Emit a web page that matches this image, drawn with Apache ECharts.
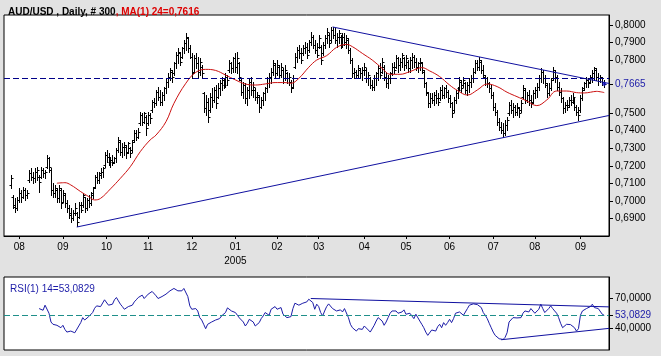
<!DOCTYPE html>
<html><head><meta charset="utf-8">
<script src="https://cdn.jsdelivr.net/npm/echarts@6/dist/echarts.min.js"></script>
<style>html,body{margin:0;padding:0;background:#e2e2e2}#c{width:661px;height:356px}</style>
</head><body><div id="c"></div>
<script>
// ---- data (AUD/USD daily, 300 bars, index 0..299) ----
const high = [0.7148,0.7034,0.7015,0.7025,0.7072,0.7063,0.7082,0.7072,0.7063,0.7176,
0.7186,0.7167,0.7186,0.7195,0.7148,0.7195,0.7186,0.7176,0.7261,0.7252,
0.7186,0.7101,0.7091,0.7072,0.7091,0.7072,0.7063,0.7044,0.7006,0.6977,
0.6958,0.6949,0.6987,0.6939,0.6996,0.6996,0.7044,0.7025,0.7015,0.7034,
0.7053,0.7082,0.7148,0.7167,0.7167,0.7186,0.7195,0.7280,0.7290,0.7271,
0.7252,0.7261,0.7252,0.7299,0.7366,0.7347,0.7328,0.7337,0.7318,0.7337,
0.7309,0.7347,0.7403,0.7403,0.7413,0.7508,0.7498,0.7508,0.7489,0.7508,
0.7498,0.7574,0.7584,0.7631,0.7650,0.7631,0.7621,0.7650,0.7697,0.7726,
0.7754,0.7744,0.7792,0.7849,0.7868,0.7849,0.7877,0.7915,0.7953,0.7934,
0.7887,0.7839,0.7830,0.7839,0.7820,0.7811,0.7773,0.7621,0.7602,0.7584,
0.7612,0.7640,0.7650,0.7659,0.7669,0.7688,0.7707,0.7697,0.7726,0.7716,
0.7801,0.7792,0.7820,0.7839,0.7849,0.7792,0.7697,0.7678,0.7669,0.7650,
0.7697,0.7707,0.7678,0.7640,0.7621,0.7602,0.7593,0.7621,0.7650,0.7707,
0.7726,0.7754,0.7801,0.7782,0.7801,0.7773,0.7782,0.7754,0.7773,0.7735,
0.7726,0.7688,0.7716,0.7839,0.7877,0.7887,0.7868,0.7887,0.7905,0.7896,
0.7915,0.7962,0.7943,0.7915,0.7896,0.7943,0.7887,0.7905,0.7943,0.7981,
0.7953,0.7991,0.7991,0.7981,0.7953,0.7972,0.7943,0.7953,0.7953,0.7943,
0.7924,0.7868,0.7811,0.7754,0.7744,0.7773,0.7754,0.7763,0.7782,0.7754,
0.7735,0.7707,0.7688,0.7716,0.7735,0.7773,0.7782,0.7811,0.7773,0.7735,
0.7716,0.7735,0.7782,0.7792,0.7830,0.7820,0.7811,0.7839,0.7820,0.7830,
0.7801,0.7820,0.7839,0.7830,0.7811,0.7792,0.7811,0.7792,0.7744,0.7678,
0.7621,0.7612,0.7612,0.7621,0.7631,0.7612,0.7650,0.7659,0.7650,0.7659,
0.7631,0.7602,0.7565,0.7593,0.7631,0.7650,0.7707,0.7688,0.7707,0.7678,
0.7678,0.7697,0.7716,0.7754,0.7801,0.7801,0.7820,0.7801,0.7773,0.7716,
0.7707,0.7678,0.7659,0.7621,0.7555,0.7517,0.7470,0.7451,0.7441,0.7460,
0.7479,0.7565,0.7574,0.7555,0.7546,0.7555,0.7536,0.7574,0.7659,0.7640,
0.7621,0.7631,0.7602,0.7631,0.7650,0.7669,0.7716,0.7754,0.7744,0.7716,
0.7669,0.7669,0.7697,0.7763,0.7744,0.7716,0.7678,0.7640,0.7593,0.7565,
0.7574,0.7593,0.7602,0.7612,0.7584,0.7546,0.7536,0.7602,0.7650,0.7678,
0.7707,0.7697,0.7716,0.7744,0.7763,0.7754,0.7726,0.7716,0.7707,0.7688];

const low = [0.7072,0.6958,0.6939,0.6949,0.6996,0.6996,0.7015,0.7006,0.7015,0.7110,
0.7119,0.7101,0.7110,0.7119,0.7053,0.7129,0.7138,0.7129,0.7186,0.7167,
0.7034,0.7025,0.7025,0.6996,0.6996,0.6958,0.6996,0.6968,0.6939,0.6902,
0.6883,0.6892,0.6920,0.6860,0.6902,0.6939,0.6968,0.6939,0.6949,0.6968,
0.6977,0.7015,0.7072,0.7101,0.7101,0.7129,0.7138,0.7195,0.7224,0.7205,
0.7195,0.7205,0.7214,0.7224,0.7280,0.7261,0.7252,0.7261,0.7243,0.7271,
0.7252,0.7280,0.7337,0.7347,0.7356,0.7432,0.7432,0.7441,0.7375,0.7432,
0.7441,0.7508,0.7536,0.7546,0.7574,0.7546,0.7546,0.7574,0.7612,0.7650,
0.7688,0.7678,0.7716,0.7754,0.7782,0.7773,0.7811,0.7839,0.7858,0.7849,
0.7811,0.7697,0.7726,0.7754,0.7707,0.7716,0.7707,0.7508,0.7489,0.7447,
0.7508,0.7536,0.7565,0.7527,0.7584,0.7602,0.7631,0.7640,0.7650,0.7659,
0.7735,0.7726,0.7735,0.7735,0.7726,0.7688,0.7602,0.7584,0.7555,0.7546,
0.7584,0.7602,0.7593,0.7574,0.7555,0.7508,0.7527,0.7546,0.7574,0.7621,
0.7650,0.7669,0.7716,0.7697,0.7716,0.7697,0.7707,0.7669,0.7688,0.7669,
0.7659,0.7617,0.7640,0.7754,0.7792,0.7811,0.7782,0.7830,0.7839,0.7811,
0.7849,0.7887,0.7868,0.7839,0.7820,0.7868,0.7777,0.7830,0.7868,0.7896,
0.7877,0.7905,0.7924,0.7896,0.7877,0.7896,0.7868,0.7877,0.7887,0.7868,
0.7839,0.7782,0.7707,0.7697,0.7707,0.7697,0.7707,0.7688,0.7716,0.7678,
0.7659,0.7640,0.7631,0.7631,0.7659,0.7688,0.7697,0.7726,0.7688,0.7650,
0.7640,0.7669,0.7716,0.7726,0.7754,0.7735,0.7744,0.7763,0.7744,0.7754,
0.7735,0.7735,0.7754,0.7763,0.7744,0.7735,0.7744,0.7726,0.7650,0.7602,
0.7536,0.7536,0.7555,0.7546,0.7555,0.7546,0.7574,0.7584,0.7584,0.7593,
0.7565,0.7536,0.7479,0.7508,0.7555,0.7584,0.7631,0.7621,0.7650,0.7612,
0.7602,0.7621,0.7650,0.7678,0.7726,0.7744,0.7744,0.7726,0.7697,0.7659,
0.7650,0.7621,0.7584,0.7517,0.7489,0.7432,0.7403,0.7385,0.7366,0.7375,
0.7403,0.7489,0.7498,0.7479,0.7489,0.7489,0.7479,0.7508,0.7584,0.7555,
0.7565,0.7546,0.7536,0.7555,0.7584,0.7593,0.7631,0.7678,0.7669,0.7650,
0.7593,0.7602,0.7631,0.7688,0.7678,0.7631,0.7602,0.7565,0.7498,0.7508,
0.7517,0.7536,0.7546,0.7555,0.7517,0.7489,0.7460,0.7508,0.7574,0.7631,
0.7650,0.7650,0.7669,0.7678,0.7688,0.7688,0.7659,0.7678,0.7659,0.7650];

const open = [0.7091,0.7025,0.6968,0.6958,0.7006,0.7044,0.7025,0.7063,0.7034,0.7119,
0.7157,0.7138,0.7129,0.7167,0.7138,0.7138,0.7176,0.7157,0.7195,0.7243,
0.7176,0.7063,0.7044,0.7063,0.7015,0.7063,0.6996,0.7034,0.6987,0.6958,
0.6930,0.6902,0.6930,0.6930,0.6911,0.6977,0.6977,0.7025,0.6958,0.7006,
0.6987,0.7034,0.7082,0.7138,0.7119,0.7148,0.7167,0.7205,0.7261,0.7252,
0.7224,0.7233,0.7224,0.7243,0.7290,0.7337,0.7280,0.7309,0.7309,0.7280,
0.7299,0.7290,0.7347,0.7385,0.7366,0.7441,0.7489,0.7451,0.7479,0.7441,
0.7489,0.7517,0.7565,0.7555,0.7621,0.7593,0.7565,0.7602,0.7640,0.7678,
0.7707,0.7735,0.7726,0.7782,0.7830,0.7839,0.7820,0.7868,0.7896,0.7924,
0.7868,0.7820,0.7735,0.7811,0.7782,0.7735,0.7763,0.7612,0.7527,0.7565,
0.7517,0.7593,0.7574,0.7631,0.7593,0.7640,0.7669,0.7688,0.7659,0.7707,
0.7744,0.7782,0.7754,0.7811,0.7763,0.7782,0.7688,0.7621,0.7659,0.7584,
0.7631,0.7678,0.7631,0.7631,0.7593,0.7593,0.7536,0.7574,0.7612,0.7640,
0.7697,0.7707,0.7735,0.7773,0.7726,0.7763,0.7716,0.7744,0.7697,0.7726,
0.7697,0.7678,0.7650,0.7763,0.7820,0.7858,0.7839,0.7839,0.7868,0.7877,
0.7858,0.7905,0.7934,0.7887,0.7858,0.7877,0.7877,0.7839,0.7887,0.7924,
0.7943,0.7915,0.7972,0.7943,0.7915,0.7934,0.7934,0.7887,0.7934,0.7905,
0.7915,0.7858,0.7801,0.7726,0.7735,0.7716,0.7744,0.7726,0.7744,0.7744,
0.7697,0.7697,0.7659,0.7650,0.7697,0.7726,0.7754,0.7735,0.7763,0.7707,
0.7669,0.7697,0.7726,0.7763,0.7763,0.7811,0.7773,0.7792,0.7811,0.7773,
0.7792,0.7754,0.7801,0.7820,0.7792,0.7763,0.7782,0.7782,0.7735,0.7669,
0.7612,0.7555,0.7584,0.7574,0.7602,0.7584,0.7584,0.7631,0.7602,0.7640,
0.7621,0.7584,0.7555,0.7517,0.7574,0.7612,0.7640,0.7678,0.7659,0.7669,
0.7631,0.7659,0.7678,0.7697,0.7735,0.7782,0.7763,0.7792,0.7744,0.7707,
0.7697,0.7669,0.7640,0.7602,0.7536,0.7508,0.7451,0.7422,0.7403,0.7385,
0.7432,0.7498,0.7546,0.7517,0.7536,0.7508,0.7527,0.7517,0.7593,0.7631,
0.7574,0.7602,0.7574,0.7565,0.7612,0.7631,0.7650,0.7697,0.7735,0.7697,
0.7659,0.7612,0.7640,0.7697,0.7735,0.7707,0.7650,0.7621,0.7584,0.7527,
0.7546,0.7546,0.7574,0.7565,0.7574,0.7536,0.7508,0.7517,0.7584,0.7640,
0.7669,0.7688,0.7678,0.7707,0.7726,0.7744,0.7707,0.7697,0.7697,0.7678];

const close = [0.7129,0.6977,0.6958,0.7006,0.7044,0.7025,0.7063,0.7034,0.7044,0.7157,
0.7138,0.7129,0.7167,0.7176,0.7110,0.7176,0.7157,0.7167,0.7243,0.7195,
0.7063,0.7044,0.7072,0.7015,0.7072,0.6987,0.7044,0.6987,0.6958,0.6920,
0.6902,0.6930,0.6958,0.6883,0.6977,0.6949,0.7034,0.6958,0.7006,0.6987,
0.7044,0.7072,0.7138,0.7119,0.7157,0.7167,0.7186,0.7261,0.7252,0.7224,
0.7233,0.7214,0.7243,0.7290,0.7347,0.7280,0.7309,0.7318,0.7271,0.7328,
0.7271,0.7337,0.7385,0.7366,0.7394,0.7489,0.7451,0.7498,0.7413,0.7489,
0.7470,0.7565,0.7555,0.7621,0.7593,0.7565,0.7602,0.7640,0.7678,0.7707,
0.7744,0.7707,0.7782,0.7830,0.7849,0.7792,0.7868,0.7896,0.7934,0.7868,
0.7820,0.7726,0.7811,0.7782,0.7735,0.7792,0.7726,0.7527,0.7565,0.7479,
0.7593,0.7574,0.7631,0.7555,0.7640,0.7669,0.7697,0.7659,0.7707,0.7688,
0.7782,0.7754,0.7811,0.7763,0.7811,0.7707,0.7621,0.7659,0.7584,0.7631,
0.7678,0.7631,0.7650,0.7593,0.7602,0.7536,0.7574,0.7612,0.7640,0.7697,
0.7707,0.7735,0.7782,0.7726,0.7773,0.7716,0.7763,0.7697,0.7744,0.7697,
0.7707,0.7640,0.7697,0.7820,0.7858,0.7839,0.7801,0.7868,0.7877,0.7830,
0.7905,0.7934,0.7887,0.7858,0.7830,0.7924,0.7801,0.7887,0.7924,0.7962,
0.7896,0.7972,0.7943,0.7915,0.7934,0.7953,0.7887,0.7934,0.7905,0.7924,
0.7858,0.7801,0.7726,0.7735,0.7716,0.7754,0.7726,0.7744,0.7763,0.7697,
0.7716,0.7659,0.7650,0.7697,0.7726,0.7754,0.7716,0.7792,0.7707,0.7669,
0.7697,0.7726,0.7763,0.7744,0.7811,0.7773,0.7792,0.7830,0.7773,0.7811,
0.7754,0.7801,0.7820,0.7792,0.7763,0.7782,0.7792,0.7744,0.7669,0.7621,
0.7555,0.7584,0.7574,0.7602,0.7584,0.7565,0.7631,0.7602,0.7640,0.7621,
0.7584,0.7555,0.7498,0.7574,0.7612,0.7631,0.7688,0.7640,0.7688,0.7631,
0.7659,0.7678,0.7697,0.7735,0.7782,0.7763,0.7801,0.7744,0.7716,0.7697,
0.7669,0.7640,0.7602,0.7536,0.7508,0.7451,0.7422,0.7403,0.7385,0.7432,
0.7460,0.7546,0.7517,0.7536,0.7508,0.7536,0.7498,0.7555,0.7640,0.7574,
0.7602,0.7574,0.7555,0.7612,0.7631,0.7650,0.7697,0.7735,0.7697,0.7669,
0.7612,0.7640,0.7688,0.7744,0.7707,0.7650,0.7621,0.7584,0.7527,0.7546,
0.7536,0.7574,0.7565,0.7593,0.7536,0.7508,0.7489,0.7584,0.7631,0.7669,
0.7688,0.7669,0.7707,0.7726,0.7754,0.7707,0.7697,0.7707,0.7678,0.7665];

// MA(24) at these bar indices
const maIdx = [23,27,30,35,39,42,45,50,55,60,65,70,73,78,82,88,93,98,103,108,113,118,123,128,133,138,141,145,150,154,159,164,169,172,177,182,187,191,196,201,207,211,216,221,225,230,235,240,245,250,255,260,265,270,275,280,285,289,292,295,299];
const maVal = [0.7101,0.7104,0.7091,0.7053,0.7025,0.7006,0.7015,0.7069,0.7129,0.7195,0.7280,0.7347,0.7375,0.7451,0.7555,0.7669,0.7731,0.7748,0.7742,0.7716,0.7688,0.7665,0.7659,0.7665,0.7673,0.7673,0.7669,0.7697,0.7760,0.7801,0.7826,0.7873,0.7890,0.7877,0.7839,0.7801,0.7754,0.7720,0.7720,0.7735,0.7758,0.7739,0.7707,0.7659,0.7628,0.7602,0.7631,0.7665,0.7650,0.7618,0.7593,0.7568,0.7542,0.7574,0.7625,0.7625,0.7616,0.7614,0.7618,0.7623,0.7616];

// RSI(14), from bar 14 to 299
const rsiStart = 14;
const rsi = [59.9,59.2,58.2,63.3,62.6,55.2,46.4,44.1,43.8,43.1,
44.1,40.7,43.1,39.0,36.3,35.0,37.3,38.4,35.6,37.3,
42.4,45.8,50.8,48.4,47.4,51.8,53.8,55.9,60.2,62.6,
63.3,61.9,62.6,68.7,68.7,63.3,64.3,64.3,68.7,71.0,
67.6,64.3,61.9,59.2,59.2,61.9,63.9,63.3,66.6,68.7,
71.0,72.7,73.4,70.0,71.0,74.4,76.1,77.1,76.1,72.7,
70.0,69.3,72.0,72.7,74.4,76.1,77.7,79.4,80.1,78.7,
77.7,78.7,77.7,80.1,79.4,72.0,62.6,59.2,60.6,59.9,
57.5,50.8,48.4,44.1,39.7,44.1,42.4,46.4,48.4,48.4,
49.1,49.8,52.5,53.2,55.9,60.6,59.2,57.5,59.2,55.9,
53.2,50.5,49.1,46.4,42.4,45.1,49.1,47.4,46.4,42.4,
41.7,45.8,49.8,52.5,55.9,56.5,53.2,59.2,58.6,61.9,
59.2,59.9,60.9,54.2,53.2,50.8,49.1,51.8,59.9,65.3,
66.0,63.3,61.9,65.3,63.3,66.6,69.3,70.0,66.0,59.2,
64.3,61.9,55.9,52.5,57.5,61.9,64.6,66.0,59.9,60.6,
57.5,56.5,58.6,56.5,59.9,59.2,50.8,44.1,40.7,39.7,
37.3,39.7,40.4,39.0,42.4,40.7,38.4,36.3,35.0,43.1,
47.4,50.8,52.5,47.4,43.1,46.4,50.8,55.2,57.5,59.2,
57.5,55.2,54.2,56.5,58.6,54.2,53.8,55.2,52.5,49.8,
54.2,53.2,47.4,44.1,40.7,36.3,33.0,34.0,38.4,37.3,
37.3,41.7,44.1,40.7,45.8,43.1,45.8,49.1,45.8,49.8,
55.2,53.2,56.5,57.5,53.2,55.2,59.9,63.3,63.9,64.6,
66.0,63.9,64.6,60.9,55.9,53.2,49.8,45.1,40.7,36.3,
33.0,31.6,29.6,28.9,28.9,31.0,35.6,46.4,46.4,50.8,
49.1,50.5,52.5,50.8,55.2,57.5,57.2,56.5,59.9,59.2,
55.2,53.8,59.2,64.3,59.9,55.9,54.2,59.9,62.6,59.9,
57.5,55.2,50.8,45.1,40.7,42.4,44.1,45.8,43.8,45.1,
40.7,37.3,39.7,53.2,57.5,59.2,59.9,60.9,61.9,64.3,
60.9,59.2,59.9,59.2,54.2,53.1];

// trend lines [barIndex, value]
const priceUpper = [[162, 0.7989], [301.4, 0.7668]];
const priceLower = [[33, 0.6852], [301.4, 0.7486]];
const rsiUpper = [[151, 70.0], [301.4, 61.6]];
const rsiLower = [[247, 28.6], [301.4, 40.0]];

// ticks & labels
const monthIdx = [4,26,48,69,91,113,134,155,178,199,221,243,264,287];
const monthLbl = ['08','09','10','11','12','01','02','03','04','05','06','07','08','09'];
const yearLbl = {113: '2005'};
const priceTicks = [0.69,0.70,0.71,0.72,0.73,0.74,0.75,0.7665,0.78,0.79,0.80];
const lastPrice = 0.7665;
const lastIdx = 299;
const maLast = 0.7616;
const rsiTicks = [40, 53.0829, 70];
const rsiLast = 53.0829;

// ---- chart ----
const FONT = 'Liberation Sans, Arial, sans-serif';
const BLUE = '#1c1ca8';
const fmt4 = v => v.toFixed(4).replace('.', ',');
const ohlc = high.map((h, i) => [i, open[i], h, low[i], close[i]]);
const maData = maIdx.map((x, k) => [x, maVal[k]]);
const rsiData = rsi.map((v, k) => [rsiStart + k, v]);

function renderOHLC(params, api) {
  const i = api.value(0);
  const pO = api.coord([i, api.value(1)]);
  const pH = api.coord([i, api.value(2)]);
  const pL = api.coord([i, api.value(3)]);
  const pC = api.coord([i, api.value(4)]);
  const x = Math.round(pH[0]) + 0.5;
  const st = {stroke: '#000', lineWidth: 1};
  const yo = Math.round(pO[1]) + 0.5, yc = Math.round(pC[1]) + 0.5;
  return {type: 'group', children: [
    {type: 'line', shape: {x1: x, y1: Math.round(pH[1]), x2: x, y2: Math.round(pL[1]) + 1}, style: st},
    {type: 'line', shape: {x1: x - 2, y1: yo, x2: x, y2: yo}, style: st},
    {type: 'line', shape: {x1: x, y1: yc, x2: x + 2, y2: yc}, style: st}
  ]};
}

const axisLineStyle = {show: true, onZero: false, lineStyle: {color: '#000', width: 1}};

const chart = echarts.init(document.getElementById('c'), null, {renderer: 'canvas'});
chart.setOption({
  backgroundColor: '#e2e2e2',
  animation: false,
  textStyle: {fontFamily: FONT},
  title: [
    {left: 3, top: 2, text: '{a|AUD/USD , Daily, # 300}{r|, MA(1) 24=' + fmt4(maLast) + '}',
     textStyle: {rich: {a: {color: '#000', fontSize: 10, fontFamily: FONT}, r: {color: '#dd0000', fontSize: 10, fontFamily: FONT}}}},
    {left: 5, top: 279, text: 'RSI(1) 14=' + fmt4(rsiLast),
     textStyle: {color: BLUE, fontSize: 10, fontWeight: 'normal', fontFamily: FONT}}
  ],
  grid: [
    {left: 4, right: 52, top: 15, bottom: 120, show: true, backgroundColor: '#fff', borderColor: '#000', borderWidth: 1},
    {left: 4, right: 52, top: 277, bottom: 6, show: true, backgroundColor: '#fff', borderColor: '#000', borderWidth: 1}
  ],
  xAxis: [
    {type: 'value', gridIndex: 0, position: 'bottom', min: -3.7, max: 301.4, axisLine: axisLineStyle, splitLine: {show: false},
     axisTick: {show: true, customValues: monthIdx, length: 3, lineStyle: {color: '#000'}},
     axisLabel: {customValues: monthIdx, color: '#000', fontSize: 10, margin: 4, lineHeight: 14, fontFamily: FONT,
       formatter: v => { const k = monthIdx.indexOf(v); return monthLbl[k] + (yearLbl[v] ? '\n' + yearLbl[v] : ''); }}},
    {type: 'value', gridIndex: 1, min: -3.7, max: 301.4, show: false, axisLine: {onZero: false}}
  ],
  yAxis: [
    {type: 'value', gridIndex: 0, position: 'right', min: 0.6801, max: 0.8057, axisLine: axisLineStyle, splitLine: {show: false},
     axisTick: {show: true, customValues: priceTicks, length: 4, lineStyle: {color: '#000'}},
     axisLabel: {customValues: priceTicks, color: '#000', fontSize: 10, margin: 6, fontFamily: FONT,
       formatter: v => Math.abs(v - lastPrice) < 1e-6 ? '{b|' + fmt4(v) + '}' : fmt4(v),
       rich: {b: {color: BLUE, fontSize: 10, fontFamily: FONT}}}},
    {type: 'value', gridIndex: 1, position: 'right', min: 18.3, max: 91.6, axisLine: axisLineStyle, splitLine: {show: false},
     axisTick: {show: true, customValues: rsiTicks, length: 4, lineStyle: {color: '#000'}},
     axisLabel: {customValues: rsiTicks, color: '#000', fontSize: 10, margin: 6, fontFamily: FONT,
       formatter: v => Math.abs(v - rsiLast) < 1e-6 ? '{b|' + fmt4(v) + '}' : fmt4(v),
       rich: {b: {color: BLUE, fontSize: 10, fontFamily: FONT}}}}
  ],
  series: [
    {type: 'custom', xAxisIndex: 0, yAxisIndex: 0, data: ohlc, renderItem: renderOHLC, clip: true,
     encode: {x: 0, y: [1, 2, 3, 4]}, z: 2, silent: true},
    {type: 'line', xAxisIndex: 0, yAxisIndex: 0, data: maData, smooth: 0.4, showSymbol: false, symbol: 'none',
     lineStyle: {color: '#cc1111', width: 1}, z: 3, silent: true,
     markLine: {symbol: 'none', silent: true, label: {show: false},
       lineStyle: {color: '#000088', type: [6, 3], width: 1}, data: [{yAxis: lastPrice}]}},
    {type: 'line', xAxisIndex: 0, yAxisIndex: 0, data: priceUpper, showSymbol: false, symbol: 'none',
     lineStyle: {color: '#1010a0', width: 1}, z: 4, silent: true},
    {type: 'line', xAxisIndex: 0, yAxisIndex: 0, data: priceLower, showSymbol: false, symbol: 'none',
     lineStyle: {color: '#1010a0', width: 1}, z: 4, silent: true},
    {type: 'scatter', xAxisIndex: 0, yAxisIndex: 0, data: [[lastIdx, lastPrice]], symbol: 'diamond', symbolSize: 5,
     itemStyle: {color: '#1010c0'}, z: 5, silent: true},
    {type: 'line', xAxisIndex: 1, yAxisIndex: 1, data: rsiData, showSymbol: false, symbol: 'none',
     lineStyle: {color: BLUE, width: 1}, z: 3, silent: true,
     markLine: {symbol: 'none', silent: true, label: {show: false},
       lineStyle: {color: '#1f8f8a', type: [6, 3], width: 1}, data: [{yAxis: rsiLast}]}},
    {type: 'line', xAxisIndex: 1, yAxisIndex: 1, data: rsiUpper, showSymbol: false, symbol: 'none',
     lineStyle: {color: '#1010a0', width: 1}, z: 4, silent: true},
    {type: 'line', xAxisIndex: 1, yAxisIndex: 1, data: rsiLower, showSymbol: false, symbol: 'none',
     lineStyle: {color: '#1010a0', width: 1}, z: 4, silent: true}
  ]
});
</script></body></html>
